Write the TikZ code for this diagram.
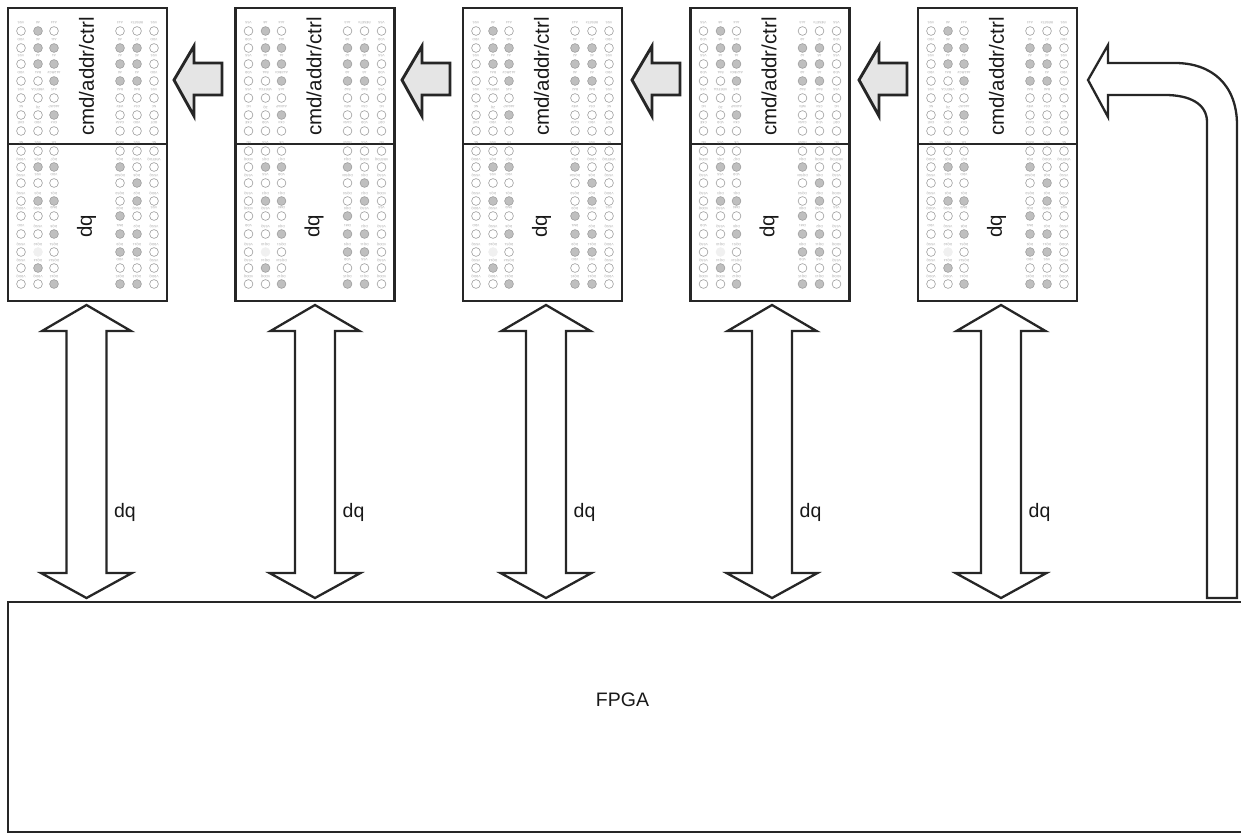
\documentclass[tikz,border=0pt]{standalone}
\usepackage{fontspec}
\setmainfont{Liberation Sans}
\tikzset{
    chipbox/.style={draw=black!85, line width=2.6pt, fill=white, minimum width=159pt, inner sep=0pt},
    chiptext/.style={rotate=90, font=\fontsize{20.5}{24}\selectfont, text=black!90, inner sep=0pt},
    pinlabel/.style={rotate=180, font=\fontsize{3.2}{4}\selectfont, text=black!35, inner sep=0pt},
    pinoff/.style={draw=black!38, line width=0.6pt, fill=white},
    pinon/.style={draw=black!38, line width=0.6pt, fill=black!25},
    pinpale/.style={draw=black!6, line width=0.6pt, fill=black!6},
    blockarrow/.style={draw=black!85, line width=2.9pt, fill=black!10, miter limit=10},
    busarrow/.style={draw=black!85, line width=2.3pt, fill=white, miter limit=10},
}
\newcommand{\ballrow}[2]{%
    \foreach \xp/\lab/\pinsty in {#2}{
        \draw[\pinsty] (\xp,#1) circle (4.4);
        \node[pinlabel] (lab\i-\xp-#1) at (\xp,#1-8) {\lab};
    }%
}
\begin{document}
\begin{tikzpicture}[x=1pt, y=-1pt]
    \useasboundingbox (0,0) rectangle (1241,834);
    \clip (0,0) rectangle (1241,834);

    % Chips
    \foreach \i in {0,...,4}{
        \begin{scope}[xshift={227.5*\i}]
            \node[chipbox, minimum height=136pt] (cmdbox\i) at (87.5,76) {};
            \node[chipbox, minimum height=157pt] (dqbox\i) at (87.5,222.5) {};
            \node[chiptext] (cmdlabel\i) at (86.5,76.5) {cmd/addr/ctrl};
            \node[chiptext] (dqlabel\i) at (86.5,226) {dq};

            % Balls
            \ballrow{31}{21/VSS/pinoff, 38/A8/pinon, 54/A14/pinoff, 120/A13/pinoff, 137/RESET\#/pinoff, 154/VSS/pinoff}
            \ballrow{48}{21/VDD/pinoff, 38/A6/pinon, 54/A11/pinon, 120/A9/pinon, 137/A7/pinon, 154/VDD/pinoff}
            \ballrow{64}{21/VSS/pinoff, 38/A4/pinon, 54/A1/pinon, 120/A2/pinon, 137/A5/pinon, 154/VSS/pinoff}
            \ballrow{81}{21/VDD/pinoff, 38/BA1/pinoff, 54/{A12/BC\#}/pinon, 120/A0/pinon, 137/A3/pinon, 154/VDD/pinoff}
            \ballrow{98}{21/VSS/pinoff, 38/VREFCA/pinoff, 54/A15/pinoff, 120/BA2/pinoff, 137/BA0/pinoff, 154/VSS/pinoff}
            \ballrow{115}{21/NC/pinoff, 38/ZQ/pinoff, 54/{A10/AP}/pinon, 120/WE\#/pinoff, 137/CS\#/pinoff, 154/NC/pinoff}
            \ballrow{131}{21/CKE/pinoff, 38/VDD/pinoff, 54/CK\#/pinoff, 120/CAS\#/pinoff, 137/VDD/pinoff, 154/ODT/pinoff}
            \ballrow{151}{21/NC/pinoff, 38/VSS/pinoff, 54/CK/pinoff, 120/RAS\#/pinoff, 137/VSS/pinoff, 154/NC/pinoff}
            \ballrow{167}{21/VDDQ/pinoff, 38/DQ5/pinon, 54/DQ7/pinon, 120/DQ4/pinon, 137/VDDQ/pinoff, 154/VREFDQ/pinoff}
            \ballrow{183}{21/VSSQ/pinoff, 38/VSS/pinoff, 54/VDD/pinoff, 120/DQS0\#/pinoff, 137/DQ6/pinon, 154/VSSQ/pinoff}
            \ballrow{201}{21/VSSQ/pinoff, 38/DQ3/pinon, 54/DQ1/pinon, 120/DQS0/pinoff, 137/DQ2/pinon, 154/VDDQ/pinoff}
            \ballrow{216}{21/VDDQ/pinoff, 38/VSSQ/pinoff, 54/DM0/pinoff, 120/DQ0/pinon, 137/VSSQ/pinoff, 154/VSS/pinoff}
            \ballrow{234}{21/VDD/pinoff, 38/VSSQ/pinoff, 54/DQ8/pinon, 120/DM1/pinon, 137/DQ2/pinon, 154/VSSQ/pinoff}
            \ballrow{252}{21/VSSQ/pinoff, 38/DQ10/pinpale, 54/DQS1/pinoff, 120/DQ9/pinon, 137/DQ11/pinon, 154/VDDQ/pinoff}
            \ballrow{268}{21/VSSQ/pinoff, 38/DQ14/pinon, 54/DQS1\#/pinoff, 120/VDD/pinoff, 137/VSS/pinoff, 154/VSSQ/pinoff}
            \ballrow{284}{21/VDDQ/pinoff, 38/VDDQ/pinoff, 54/DQ12/pinon, 120/DQ15/pinon, 137/DQ13/pinon, 154/VDDQ/pinoff}
        \end{scope}
    }

    % Flechas cmd
    \foreach \d in {0,228,458,685}{
        \draw[blockarrow, xshift={\d}] (174,80) -- (194,46) -- (194,63) -- (222,63) -- (222,95) -- (194,95) -- (194,116) -- cycle;
    }

    % FPGA
    \node[draw=black!85, line width=2pt, minimum width=1238pt, minimum height=230pt, inner sep=0pt] (fpga) at (627,717) {};
    \node[font=\fontsize{19.5}{24}\selectfont, text=black!90, inner sep=0pt] (fpgalabel) at (622.5,700) {FPGA};

    % Flechas dq
    \foreach \i/\d in {0/0,1/228.5,2/459.5,3/685.5,4/914.5}{
        \draw[busarrow, xshift={\d}] (86.5,305) -- (131,331) -- (106.5,331) -- (106.5,573) -- (132,573) -- (86.5,598) -- (41,573) -- (66.5,573) -- (66.5,331) -- (42,331) -- cycle;
        \node[font=\fontsize{19.5}{24}\selectfont, text=black!90, inner sep=0pt, xshift={\d}] (buslabel\i) at (125,512) {dq};
    }

    % Flecha de retorno
    \draw[busarrow] (1088,80) -- (1108,45) -- (1108,63) -- (1175,63)
        .. controls (1212,63) and (1237,85) .. (1237,125) -- (1237,598) -- (1207,598) -- (1207,122)
        .. controls (1207,104) and (1190,95) .. (1165,95) -- (1108,95) -- (1108,117) -- cycle;
\end{tikzpicture}
\end{document}
